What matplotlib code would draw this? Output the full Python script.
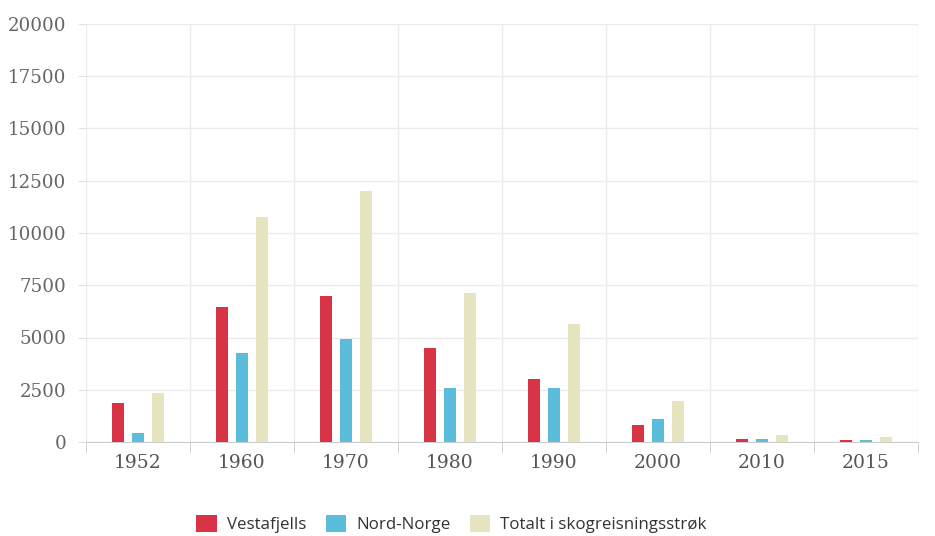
import matplotlib
matplotlib.use("Agg")
import matplotlib.pyplot as plt
import numpy as np
from matplotlib.patches import Patch

categories = ["1952", "1960", "1970", "1980", "1990", "2000", "2010", "2015"]
series_names = ["Vestafjells", "Nord-Norge", "Totalt i skogreisningsstrøk"]
vestafjells = [1850, 6450, 7000, 4520, 3020, 790, 130, 80]
nord_norge = [420, 4250, 4950, 2570, 2570, 1120, 160, 110]
totalt = [2340, 10770, 12020, 7150, 5650, 1960, 340, 240]
yticks = [0, 2500, 5000, 7500, 10000, 12500, 15000, 17500, 20000]
colors = ["#d93446", "#5bbcdc", "#e6e5bf"]

fig = plt.figure(figsize=(9.35, 5.36), dpi=100)
ax = fig.add_axes([86/935, 1 - 442/536, (918-86)/935, (442-24)/536])

x = np.arange(len(categories))
w = 0.108
off = 0.193
for i, (vals, c) in enumerate(zip([vestafjells, nord_norge, totalt], colors)):
    ax.bar(x + (i - 1) * off, vals, width=w, color=c, zorder=3)

ax.set_xlim(-0.5, len(categories) - 0.5)
ax.set_ylim(0, 20000)
ax.set_yticks(yticks)
ax.set_yticklabels([str(t) for t in yticks], family="DejaVu Serif", fontsize=13.2, color="#666666")
ax.set_xticks(x)
ax.set_xticklabels(categories, family="DejaVu Serif", fontsize=13.5, color="#555555")
ax.tick_params(axis="x", length=0, pad=9)
ax.tick_params(axis="y", length=6, color="#e0e0e0", pad=8)
# category boundary ticks / grid
ax.set_xticks(np.arange(-0.5, len(categories)), minor=True)
ax.tick_params(axis="x", which="minor", length=8, color="#cccccc")
ax.grid(axis="y", color="#ebebeb", lw=1, zorder=0)
ax.grid(axis="x", which="minor", color="#ebebeb", lw=1, zorder=0)
for s in ["top", "right", "left"]:
    ax.spines[s].set_visible(False)
ax.spines["bottom"].set_color("#cccccc")

handles = [Patch(facecolor=c, edgecolor="none") for c in colors]
fig.legend(handles, series_names, loc="center", bbox_to_anchor=(0.483, 1 - 524/536),
           ncol=3, frameon=False, prop={"family": "Open Sans", "size": 12.2},
           handlelength=1.2, handleheight=1.2, columnspacing=1.15, handletextpad=0.6,
           labelcolor="#333333")

fig.savefig("out.png", dpi=100, facecolor="white")
